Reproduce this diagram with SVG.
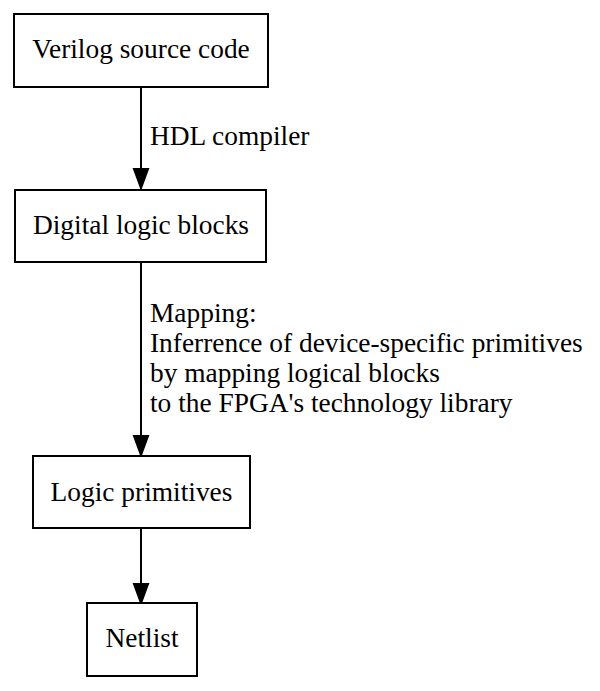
<svg xmlns="http://www.w3.org/2000/svg" width="600" height="691" viewBox="0 0 600 691">
<style>
.box{fill:#fff;stroke:#000;stroke-width:2}
.t{font-size:27.4px;fill:#000}
.c{text-anchor:middle}
.e{stroke:#000;stroke-width:2;fill:none}
.h{fill:#000;stroke:#000;stroke-width:2}
</style>
<rect width="600" height="691" fill="#fff"/>
<g id="edges" font-family="Liberation Serif, Times New Roman, serif">
<path class="e" d="M141,87 V169"/>
<polygon class="h" points="134,169 148,169 141,188"/>
<text class="t" x="150" y="145">HDL compiler</text>
<path class="e" d="M141,262 V436"/>
<polygon class="h" points="134,436 148,436 141,455"/>
<text class="t" x="150" y="322">Mapping:</text>
<text class="t" x="150" y="352">Inferrence of device-specific primitives</text>
<text class="t" x="150" y="382">by mapping logical blocks</text>
<text class="t" x="150" y="412">to the FPGA's technology library</text>
<path class="e" d="M141,529 V584"/>
<polygon class="h" points="134,584 148,584 141,603"/>
</g>
<g id="n1" font-family="Liberation Serif, Times New Roman, serif">
<rect class="box" x="14" y="14" width="254" height="73"/>
<text class="t c" x="141" y="58">Verilog source code</text>
</g>
<g id="n2" font-family="Liberation Serif, Times New Roman, serif">
<rect class="box" x="15" y="190" width="251" height="72"/>
<text class="t c" x="141" y="234">Digital logic blocks</text>
</g>
<g id="n3" font-family="Liberation Serif, Times New Roman, serif">
<rect class="box" x="33" y="456" width="217" height="72"/>
<text class="t c" x="141.5" y="501">Logic primitives</text>
</g>
<g id="n4" font-family="Liberation Serif, Times New Roman, serif">
<rect class="box" x="87" y="603" width="110" height="73"/>
<text class="t c" x="142" y="647">Netlist</text>
</g>
</svg>
